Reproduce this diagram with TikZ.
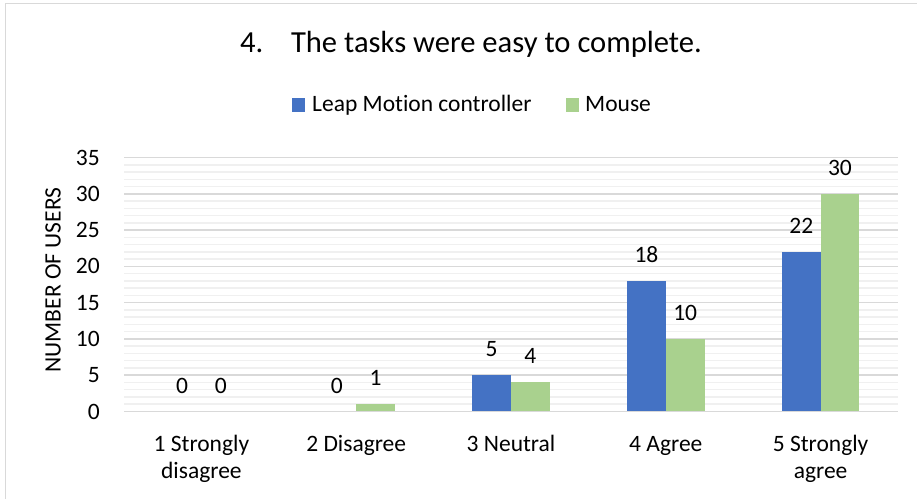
\documentclass[tikz,border=0pt]{standalone}
\usepackage{fontspec}
\setmainfont{Carlito}[Ligatures=NoCommon]
\usetikzlibrary{calc}

\definecolor{leapblue}{HTML}{4472C4}
\definecolor{mousegreen}{HTML}{A9D18E}
\definecolor{gridmajor}{HTML}{D9D9D9}
\definecolor{gridminor}{HTML}{F0F0F0}

\newcommand{\chartfont}{\fontsize{23.5}{26.5}\selectfont}

\begin{document}
\begin{tikzpicture}[x=1pt, y=1pt,
    leap/.style={fill=leapblue},
    mouse/.style={fill=mousegreen},
    minorline/.style={gridminor, line width=1.5pt},
    majorline/.style={gridmajor, line width=1.5pt},
    lbl/.style={inner sep=0pt, font=\chartfont}]
    \useasboundingbox (0,0) rectangle (917,499);
    \draw[gridmajor, line width=1.5pt] (917,495.5) -- (5.5,495.5) -- (5.5,0);

    \node[lbl, font=\fontsize{30.6}{36}\selectfont, anchor=base west] (title) at (240,446)
      {4.\hspace{27.6pt}The tasks were easy to complete.};

    % legend
    \fill[leap] (292,387) rectangle (305,401);
    \node[lbl, anchor=base west] (leapkey) at (312,387) {Leap Motion controller};
    \fill[mouse] (566,387) rectangle (579,401);
    \node[lbl, anchor=base west] (mousekey) at (585,387) {Mouse};

    \node[lbl, rotate=90] (ytitle) at (53,219) {NUMBER OF USERS};

    \begin{scope}[shift={(124,87.5)}, y=7.257pt]
      \foreach \v in {1,...,34}
        \draw[minorline] (0,\v) -- (774,\v);
      \foreach \v in {5,10,...,35}
        \draw[majorline] (0,\v) -- (774,\v);
      \foreach \v in {0,5,...,35}
        \node[lbl, anchor=east] (tick\v) at (-24,\v) {\v};

      \foreach \catA/\catB/\leapval/\mouseval [count=\i] in
          {1 Strongly/disagree/0/0, 2 Disagree//0/1, 3 Neutral//5/4,
           4 Agree//18/10, 5 Strongly/agree/22/30} {
        \pgfmathsetmacro\c{77.4+154.8*(\i-1)}
        \ifnum\leapval>0 \fill[leap] (\c-38.7,0) rectangle (\c,\leapval); \fi
        \ifnum\mouseval>0 \fill[mouse] (\c,0) rectangle (\c+38.7,\mouseval); \fi
        \node[lbl, anchor=base, yshift=18.5pt] (leapnum\i) at (\c-19.35,\leapval) {\leapval};
        \node[lbl, anchor=base, yshift=18.5pt] (mousenum\i) at (\c+19.35,\mouseval) {\mouseval};
        \node[lbl, anchor=base, yshift=-40pt] (cat\i) at (\c,0) {\catA};
        \node[lbl, anchor=base, yshift=-66.5pt] (cattail\i) at (\c,0) {\catB};
      }
      \draw[majorline] (0,0) -- (774,0);
    \end{scope}
\end{tikzpicture}
\end{document}
